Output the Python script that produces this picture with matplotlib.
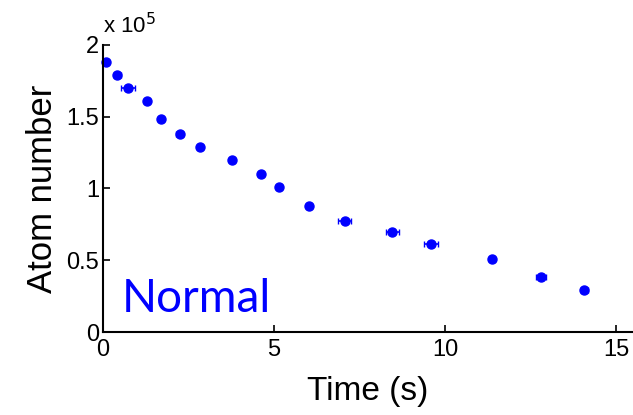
import numpy as np
import matplotlib
matplotlib.use('Agg')
import matplotlib.pyplot as plt

plt.rcParams['font.family'] = ['Liberation Sans', 'DejaVu Sans']

# time (s) and atom number (units of 1e5)
time_s = [0.09, 0.41, 0.73, 1.28, 1.69, 2.24, 2.83, 3.76, 4.61, 5.15,
          6.02, 7.06, 8.46, 9.59, 11.38, 12.8, 14.08]
atoms = [1.88, 1.79, 1.70, 1.61, 1.48, 1.38, 1.29, 1.20, 1.10, 1.01,
         0.88, 0.775, 0.695, 0.61, 0.505, 0.38, 0.295]
time_err = [0.03, 0.1, 0.2, 0.05, 0.05, 0.1, 0.05, 0.05, 0.05, 0.05,
            0.05, 0.2, 0.2, 0.2, 0.05, 0.15, 0.1]
atom_err = [0.01] * 17

fig = plt.figure(figsize=(6.33, 4.15), dpi=100)
ax = fig.add_axes([0.163, 0.2, 0.837, 0.692])

ax.errorbar(time_s, atoms, xerr=time_err, yerr=atom_err, fmt='o', color='#0000ff',
            markersize=6.5, capsize=2.5, elinewidth=1.2, clip_on=False)

ax.set_xlim(0, 15.5)
ax.set_ylim(0, 2)
ax.set_xticks([0, 5, 10, 15])
ax.set_yticks([0, 0.5, 1, 1.5, 2])
ax.set_yticklabels(['0', '0.5', '1', '1.5', '2'])
ax.tick_params(direction='in', labelsize=17, length=5, width=1.2, pad=3)
ax.tick_params(axis='x', pad=5)
for s in ['top', 'right']:
    ax.spines[s].set_visible(False)
for s in ['left', 'bottom']:
    ax.spines[s].set_linewidth(1.5)

ax.set_xlabel('Time (s)', fontsize=24, labelpad=11)
ax.set_ylabel('Atom number', fontsize=25, labelpad=5)
ax.text(0.55, 0.14, 'Normal', color='#0000ff', fontsize=33, family=['Lato', 'DejaVu Sans'])
fig.text(0.163, 0.92, r'x 10$^{5}$', fontsize=16)

plt.savefig('out.png')
